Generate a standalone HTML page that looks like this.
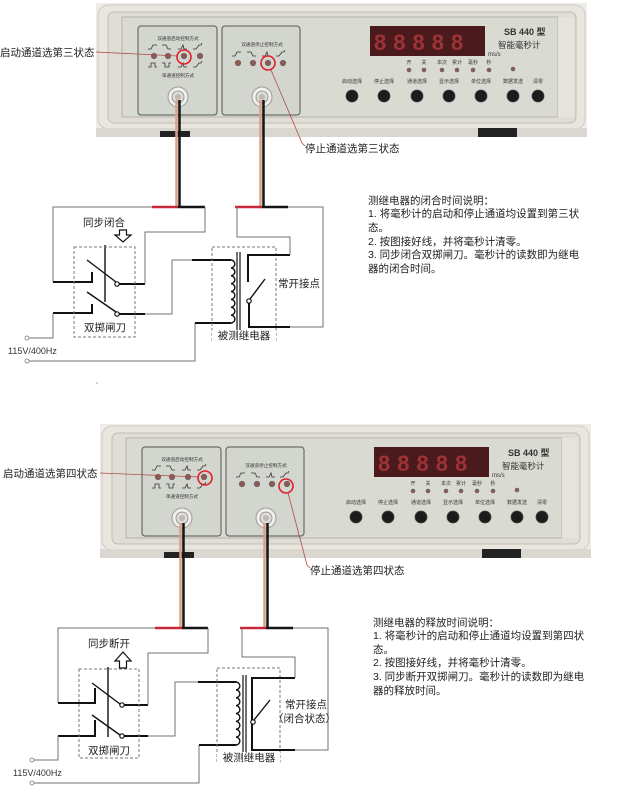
<!DOCTYPE html>
<html><head><meta charset="utf-8"><style>
html,body{margin:0;padding:0;background:#fff;}
svg{display:block;}
text{font-family:"Liberation Sans","Noto Sans CJK SC",sans-serif;}
.t{font-size:10.5px;fill:#222;}
.tn{stroke:#707070;stroke-width:1;fill:none;}
.bk{stroke:#111;stroke-width:2;fill:none;}
.bl{stroke:#111;stroke-width:1.4;fill:none;}
.dash{stroke:#777;stroke-width:1;fill:none;stroke-dasharray:3,2;}
.tiny{font-size:4.6px;fill:#333;}
.sm{font-size:5px;fill:#333;}
.dot{fill:#8c5a52;stroke:#666;stroke-width:0.6;}
.btn{fill:#1c1c1c;stroke:#444;stroke-width:0.8;}
.wv{stroke:#333;stroke-width:0.8;fill:none;}
</style></head><body>
<svg width="634" height="800" viewBox="0 0 634 800" xmlns="http://www.w3.org/2000/svg">
<defs>
<g id="photo">
  <rect x="96" y="3" width="491" height="134" fill="#eeece8"/>
  <rect x="98" y="5" width="487" height="124" rx="10" fill="#e9e6df" stroke="#cfcac1"/>
  <rect x="108" y="12" width="468" height="111" rx="6" fill="#dfddd5" stroke="#c2beb4"/>
  <rect x="122" y="17" width="436" height="100" fill="#d9dbd3" stroke="#b5b3ab"/>
  <rect x="558" y="17" width="16" height="100" fill="#e6e3dc"/>
  <rect x="96" y="128" width="491" height="9" fill="#dad7d1"/>
  <rect x="160" y="131" width="30" height="6" fill="#222"/>
  <rect x="478" y="128" width="39" height="9" fill="#222"/>
  <!-- left subpanel -->
  <rect x="138" y="26" width="79" height="89" rx="3" fill="#d3d6ce" stroke="#555" stroke-width="1"/>
  <text x="178" y="40" class="tiny" text-anchor="middle">双通道启动控制方式</text>
  <path class="wv" d="M148,49 h3 l2,-4 h4 M162,45 h4 l2,4 h3 M178,49 h3 l2,-4 l1,4 h3 M193,49 h3 l3,-4 h2 l1,-2"/>
  <circle class="dot" cx="154" cy="56" r="2.8"/>
  <circle class="dot" cx="168" cy="56" r="2.8"/>
  <circle class="dot" cx="184" cy="56" r="2.8"/>
  <circle class="dot" cx="200" cy="56" r="2.8"/>
  <path class="wv" d="M148,67 h3 v-4 h4 v4 h2 M162,63 h3 v4 h4 v-4 h2 M178,67 h3 l2,-4 l1,4 h3 M193,67 h3 l3,-4 h2 l1,-2"/>
  <text x="178" y="77" class="tiny" text-anchor="middle">单通道控制方式</text>
  <circle cx="178" cy="97" r="10" fill="#efefed" stroke="#9a9a96" stroke-width="1"/>
  <circle cx="178" cy="97" r="6" fill="#dedcd8" stroke="#888" stroke-width="0.8"/>
  <circle cx="178" cy="97" r="3" fill="#c2b8b0"/>
  <!-- right subpanel -->
  <rect x="222" y="26" width="78" height="89" rx="3" fill="#d3d6ce" stroke="#555" stroke-width="1"/>
  <text x="262" y="46" class="tiny" text-anchor="middle">双通道停止控制方式</text>
  <path class="wv" d="M232,56 h3 l2,-4 h4 M247,52 h4 l2,4 h3 M262,56 h3 l2,-4 l1,4 h3 M276,56 h3 l3,-4 h2 l1,-2"/>
  <circle class="dot" cx="238" cy="63" r="2.8"/>
  <circle class="dot" cx="253" cy="63" r="2.8"/>
  <circle class="dot" cx="268" cy="63" r="2.8"/>
  <circle class="dot" cx="283" cy="63" r="2.8"/>
  <circle cx="262" cy="97" r="10" fill="#efefed" stroke="#9a9a96" stroke-width="1"/>
  <circle cx="262" cy="97" r="6" fill="#dedcd8" stroke="#888" stroke-width="0.8"/>
  <circle cx="262" cy="97" r="3" fill="#c2b8b0"/>
  <!-- display -->
  <rect x="370" y="26" width="115" height="30" fill="#4a1a1c"/>
  <text x="374" y="50" font-size="22" font-weight="bold" fill="#9e3236" letter-spacing="7" style="font-family:'Liberation Sans',sans-serif">88888</text>
  <text x="504" y="35" font-size="9" fill="#333" style="font-weight:bold">SB 440 型</text>
  <text x="498" y="48" font-size="8.5" fill="#333">智能毫秒计</text>
  <text x="488" y="56" font-size="6" fill="#333">ms/s</text>
  <text x="409" y="64" class="sm" text-anchor="middle">开</text>
  <text x="424" y="64" class="sm" text-anchor="middle">关</text>
  <text x="442" y="64" class="sm" text-anchor="middle">本次</text>
  <text x="457" y="64" class="sm" text-anchor="middle">累计</text>
  <text x="473" y="64" class="sm" text-anchor="middle">毫秒</text>
  <text x="489" y="64" class="sm" text-anchor="middle">秒</text>
  <circle class="dot" cx="409" cy="70" r="2"/>
  <circle class="dot" cx="424" cy="70" r="2"/>
  <circle class="dot" cx="442" cy="70" r="2"/>
  <circle class="dot" cx="457" cy="70" r="2"/>
  <circle class="dot" cx="473" cy="70" r="2"/>
  <circle class="dot" cx="489" cy="70" r="2"/>
  <circle class="dot" cx="513" cy="69" r="2"/>
  <text x="352" y="83" class="sm" text-anchor="middle">启动选择</text>
  <text x="384" y="83" class="sm" text-anchor="middle">停止选择</text>
  <text x="417" y="83" class="sm" text-anchor="middle">通道选择</text>
  <text x="449" y="83" class="sm" text-anchor="middle">显示选择</text>
  <text x="481" y="83" class="sm" text-anchor="middle">单位选择</text>
  <text x="513" y="83" class="sm" text-anchor="middle">数据发送</text>
  <text x="538" y="83" class="sm" text-anchor="middle">清零</text>
  <circle class="btn" cx="352" cy="96" r="6"/>
  <circle class="btn" cx="384" cy="96" r="6"/>
  <circle class="btn" cx="417" cy="96" r="6"/>
  <circle class="btn" cx="449" cy="96" r="6"/>
  <circle class="btn" cx="481" cy="96" r="6"/>
  <circle class="btn" cx="513" cy="96" r="6"/>
  <circle class="btn" cx="538" cy="96" r="6"/>
</g>
</defs>

<!-- ===== TOP SECTION ===== -->
<use href="#photo"/>
<line x1="96" y1="52" x2="178" y2="56" stroke="#b04a4a" stroke-width="0.8"/>
<circle cx="184" cy="57" r="7" fill="none" stroke="#e0202a" stroke-width="1.6"/>
<circle cx="268" cy="63" r="7" fill="none" stroke="#e0202a" stroke-width="1.6"/>
<path d="M271,70 L302,143 L305,146" stroke="#b04a4a" stroke-width="0.8" fill="none"/>
<text x="0" y="56" class="t">启动通道选第三状态</text>
<text x="305" y="152" class="t">停止通道选第三状态</text>

<!-- wires top -->
<line x1="176.5" y1="100" x2="176.5" y2="207" stroke="#d9a08a" stroke-width="2.5"/>
<line x1="179.5" y1="100" x2="179.5" y2="207" stroke="#151515" stroke-width="2.5"/>
<line x1="260.5" y1="100" x2="260.5" y2="207" stroke="#d9a08a" stroke-width="2.5"/>
<line x1="263.5" y1="100" x2="263.5" y2="207" stroke="#151515" stroke-width="2.5"/>
<line x1="152" y1="207" x2="178" y2="207" stroke="#c8283a" stroke-width="2.5"/>
<line x1="178" y1="207" x2="205" y2="207" stroke="#151515" stroke-width="2.5"/>
<line x1="235" y1="207" x2="262" y2="207" stroke="#c8283a" stroke-width="2.5"/>
<line x1="262" y1="207" x2="288" y2="207" stroke="#151515" stroke-width="2.5"/>

<!-- top circuit -->
<path class="tn" d="M152,207 H53 V282"/>
<path class="bk" d="M53,282 H92 V272"/>
<line class="bl" x1="87" y1="260" x2="116" y2="282"/>
<circle cx="117" cy="284" r="2.2" fill="#fff" stroke="#111" stroke-width="1.2"/>
<path class="bk" d="M119,284 H145"/>
<path class="tn" d="M145,284 V232 H205 V207"/>
<line class="bl" x1="105" y1="245" x2="105" y2="302"/>
<line class="bl" x1="87" y1="292" x2="116" y2="312"/>
<circle cx="117" cy="314" r="2.2" fill="#fff" stroke="#111" stroke-width="1.2"/>
<path class="bk" d="M119,314 H145"/>
<path class="tn" d="M145,314 H172 V260 H192"/>
<path class="bk" d="M192,260 H231"/>
<path class="bk" d="M53,313 H92 V304"/>
<path class="tn" d="M53,313 V338 H29"/>
<circle cx="27" cy="338" r="2" fill="#fff" stroke="#777" stroke-width="0.8"/>
<text x="8" y="354" font-size="9" fill="#333">115V/400Hz</text>
<circle cx="27" cy="361" r="2" fill="#fff" stroke="#777" stroke-width="0.8"/>
<path class="tn" d="M29,361 H195 V323"/>
<path class="bk" d="M195,323 H231"/>
<rect class="dash" x="74" y="247" width="61" height="90"/>
<text x="105" y="331" class="t" text-anchor="middle">双掷闸刀</text>
<text x="83" y="226" class="t">同步闭合</text>
<path d="M119.5,230 H126.5 V235 H131 L123,242 L115,235 H119.5 Z" fill="#fff" stroke="#111" stroke-width="1.2"/>
<rect class="dash" x="212" y="247" width="64" height="93"/>
<path d="M231,260 a4,3.94 0 0 1 0,7.875 a4,3.94 0 0 1 0,7.875 a4,3.94 0 0 1 0,7.875 a4,3.94 0 0 1 0,7.875 a4,3.94 0 0 1 0,7.875 a4,3.94 0 0 1 0,7.875 a4,3.94 0 0 1 0,7.875 a4,3.94 0 0 1 0,7.875" fill="none" stroke="#111" stroke-width="1.4"/>
<line x1="237" y1="252" x2="237" y2="332" stroke="#111" stroke-width="1.2"/>
<line x1="240" y1="252" x2="240" y2="332" stroke="#111" stroke-width="1.2"/>
<path class="bk" d="M290,255 H248 V282"/>
<path class="tn" d="M290,255 V237 H237 V207"/>
<line class="bl" x1="250" y1="299" x2="265" y2="279"/>
<circle cx="249" cy="301" r="2.2" fill="#fff" stroke="#111" stroke-width="1.2"/>
<path class="bk" d="M249,303 V327 H290"/>
<path class="tn" d="M290,327 H323 V207 H288"/>
<text x="278" y="287" class="t">常开接点</text>
<rect x="212" y="330" width="64" height="11" fill="#fff"/>
<text x="244" y="339" class="t" text-anchor="middle">被测继电器</text>
<circle cx="97" cy="383" r="0.8" fill="#999"/>

<!-- top text block -->
<text class="t" x="368" y="204">测继电器的闭合时间说明：</text>
<text class="t" x="368" y="217">1. 将毫秒计的启动和停止通道均设置到第三状</text>
<text class="t" x="368" y="231">态。</text>
<text class="t" x="368" y="245">2. 按图接好线，并将毫秒计清零。</text>
<text class="t" x="368" y="258">3. 同步闭合双掷闸刀。毫秒计的读数即为继电</text>
<text class="t" x="368" y="272">器的闭合时间。</text>

<!-- ===== BOTTOM SECTION ===== -->
<use href="#photo" transform="translate(4,421)"/>
<line x1="100" y1="473" x2="199" y2="477" stroke="#b04a4a" stroke-width="0.8"/>
<circle cx="205" cy="478" r="7" fill="none" stroke="#e0202a" stroke-width="1.6"/>
<circle cx="286" cy="486" r="7" fill="none" stroke="#e0202a" stroke-width="1.6"/>
<path d="M288,493 L307,565 L310,568" stroke="#b04a4a" stroke-width="0.8" fill="none"/>
<text x="3" y="477" class="t">启动通道选第四状态</text>
<text x="310" y="574" class="t">停止通道选第四状态</text>

<line x1="180.5" y1="523" x2="180.5" y2="628" stroke="#d9a08a" stroke-width="2.5"/>
<line x1="183.5" y1="523" x2="183.5" y2="628" stroke="#151515" stroke-width="2.5"/>
<line x1="264.5" y1="523" x2="264.5" y2="628" stroke="#d9a08a" stroke-width="2.5"/>
<line x1="267.5" y1="523" x2="267.5" y2="628" stroke="#151515" stroke-width="2.5"/>
<line x1="155" y1="628" x2="182" y2="628" stroke="#c8283a" stroke-width="2.5"/>
<line x1="182" y1="628" x2="208" y2="628" stroke="#151515" stroke-width="2.5"/>
<line x1="240" y1="628" x2="266" y2="628" stroke="#c8283a" stroke-width="2.5"/>
<line x1="266" y1="628" x2="293" y2="628" stroke="#151515" stroke-width="2.5"/>

<path class="tn" d="M155,628 H58 V703"/>
<path class="bk" d="M58,703 H95 V688"/>
<line class="bl" x1="92" y1="683" x2="120" y2="704"/>
<circle cx="122" cy="705" r="2.2" fill="#fff" stroke="#111" stroke-width="1.2"/>
<path class="bk" d="M124,705 H148"/>
<path class="tn" d="M148,705 V653 H208 V628"/>
<line class="bl" x1="108" y1="667" x2="108" y2="737"/>
<line class="bl" x1="92" y1="715" x2="120" y2="735"/>
<circle cx="122" cy="736" r="2.2" fill="#fff" stroke="#111" stroke-width="1.2"/>
<path class="bk" d="M124,736 H148"/>
<path class="tn" d="M148,736 H175 V682 H198"/>
<path class="bk" d="M198,682 H236"/>
<path class="bk" d="M58,736 H95 V720"/>
<path class="tn" d="M58,736 V760 H34"/>
<circle cx="32" cy="760" r="2" fill="#fff" stroke="#777" stroke-width="0.8"/>
<text x="13" y="776" font-size="9" fill="#333">115V/400Hz</text>
<circle cx="32" cy="783" r="2" fill="#fff" stroke="#777" stroke-width="0.8"/>
<path class="tn" d="M34,783 H199 V745"/>
<path class="bk" d="M199,745 H236"/>
<rect class="dash" x="79" y="669" width="60" height="89"/>
<text x="109" y="754" class="t" text-anchor="middle">双掷闸刀</text>
<text x="88" y="647" class="t">同步断开</text>
<path d="M119.5,668 H126.5 V661 H131 L123,652 L115,661 H119.5 Z" fill="#fff" stroke="#111" stroke-width="1.2"/>
<rect class="dash" x="217" y="668" width="63" height="94"/>
<path d="M236,682 a4,3.94 0 0 1 0,7.875 a4,3.94 0 0 1 0,7.875 a4,3.94 0 0 1 0,7.875 a4,3.94 0 0 1 0,7.875 a4,3.94 0 0 1 0,7.875 a4,3.94 0 0 1 0,7.875 a4,3.94 0 0 1 0,7.875 a4,3.94 0 0 1 0,7.875" fill="none" stroke="#111" stroke-width="1.4"/>
<line x1="243" y1="675" x2="243" y2="752" stroke="#111" stroke-width="1.2"/>
<line x1="246" y1="675" x2="246" y2="752" stroke="#111" stroke-width="1.2"/>
<path class="bk" d="M295,678 H252 V750 H295"/>
<path class="tn" d="M295,678 V657 H242 V628"/>
<line class="bl" x1="254" y1="720" x2="270" y2="700"/>
<circle cx="253" cy="722" r="2.2" fill="#fff" stroke="#111" stroke-width="1.2"/>
<path class="tn" d="M295,750 H328 V628 H293"/>
<text x="285" y="708" class="t">常开接点</text>
<text x="273" y="722" class="t">（闭合状态）</text>
<rect x="217" y="752" width="63" height="11" fill="#fff"/>
<text x="249" y="761" class="t" text-anchor="middle">被测继电器</text>

<!-- bottom text block -->
<text class="t" x="373" y="626">测继电器的释放时间说明：</text>
<text class="t" x="373" y="639">1. 将毫秒计的启动和停止通道均设置到第四状</text>
<text class="t" x="373" y="653">态。</text>
<text class="t" x="373" y="666">2. 按图接好线，并将毫秒计清零。</text>
<text class="t" x="373" y="680">3. 同步断开双掷闸刀。毫秒计的读数即为继电</text>
<text class="t" x="373" y="694">器的释放时间。</text>
</svg>
</body></html>
